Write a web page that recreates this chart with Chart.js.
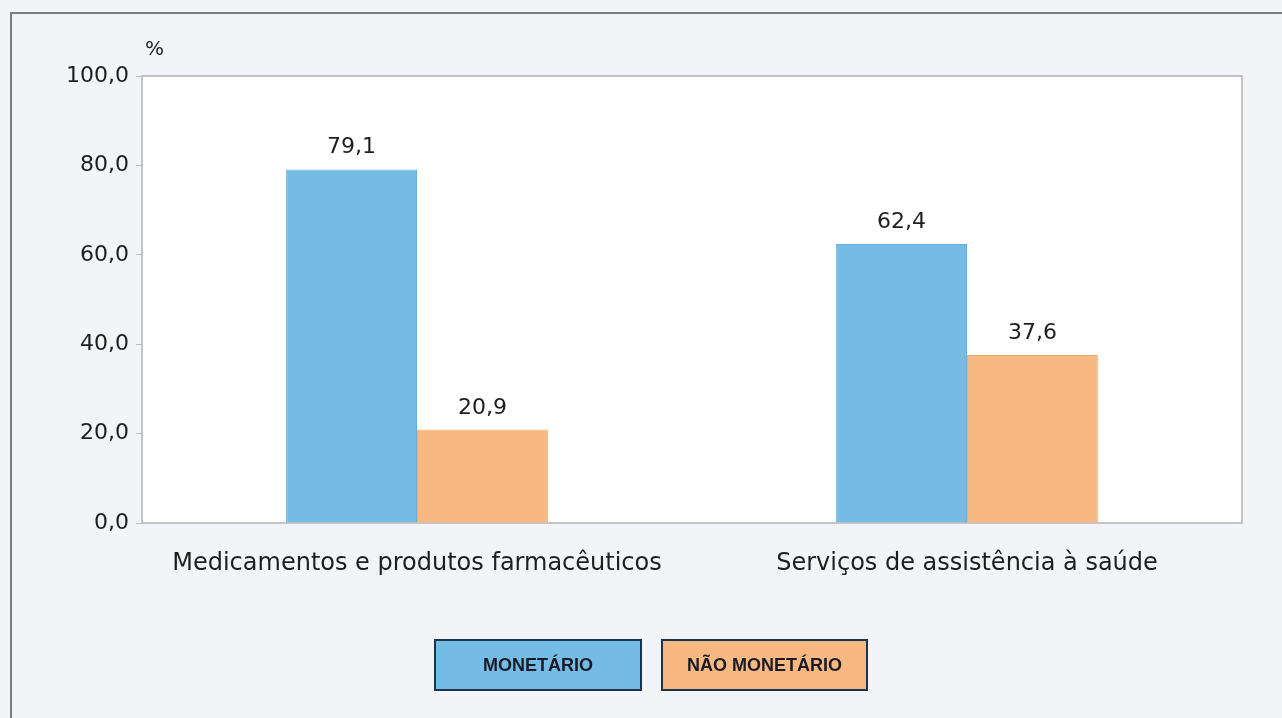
<!DOCTYPE html>
<html>
<head>
<meta charset="utf-8">
<script src="https://cdn.jsdelivr.net/npm/chart.js@4"></script>
<style>
  html, body { margin: 0; padding: 0; background: #f2f4f7; }
  #frame {
    position: absolute; left: 10px; top: 12px; width: 1272px; height: 706px;
    border-top: 2px solid #7b7b7b; border-left: 2px solid #7b7b7b;
  }
  #wrap { position: absolute; left: 0; top: 0; width: 1282px; height: 718px; }
  #legend { position: absolute; left: 0; top: 639px; width: 1282px; height: 52px; }
  .leg {
    position: absolute; top: 0; height: 52px; box-sizing: border-box;
    border: 2px solid #1c3350; font: bold 18px "Liberation Sans", Arial, sans-serif;
    color: #1a1a24; display: flex; align-items: center; justify-content: center;
  }
</style>
</head>
<body>
<div id="frame"></div>
<div id="wrap"><canvas id="grafico" width="1282" height="718"></canvas></div>
<div id="legend"></div>
<script>
// données
var categorias = ['Medicamentos e produtos farmacêuticos', 'Serviços de assistência à saúde'];
var monetario = [79.1, 62.4];
var naoMonetario = [20.9, 37.6];
var series = ['MONETÁRIO', 'NÃO MONETÁRIO'];
var ticksY = [0, 20, 40, 60, 80, 100];

var azul = '#74bbe6';
var laranja = '#f7b981';
var fonte = '"DejaVu Sans", Verdana, sans-serif';

function virgula(v) {
    return v.toFixed(1).replace('.', ',');
}

// fond blanc + bordure de la zone de tracé
var fondPlot = {
    id: 'fondPlot',
    beforeDraw: function (chart) {
        var a = chart.chartArea, ctx = chart.ctx;
        ctx.save();
        ctx.fillStyle = '#ffffff';
        ctx.fillRect(a.left, a.top, a.right - a.left, a.bottom - a.top);
        ctx.strokeStyle = '#c4c4c4';
        ctx.lineWidth = 2;
        ctx.strokeRect(a.left, a.top, a.right - a.left, a.bottom - a.top);
        ctx.restore();
    },
    afterDraw: function (chart) {
        var ctx = chart.ctx, a = chart.chartArea;
        ctx.save();
        // unité
        ctx.fillStyle = '#1e1e1e';
        ctx.font = '20px ' + fonte;
        ctx.textAlign = 'left';
        ctx.textBaseline = 'alphabetic';
        ctx.fillText('%', a.left + 3, a.top - 21);
        // valeurs au-dessus des barres
        ctx.font = '22px ' + fonte;
        ctx.textAlign = 'center';
        chart.data.datasets.forEach(function (ds, i) {
            chart.getDatasetMeta(i).data.forEach(function (bar, j) {
                ctx.fillText(virgula(ds.data[j]), bar.x, bar.y - 16);
            });
        });
        ctx.restore();
    }
};

var ctx = document.getElementById('grafico').getContext('2d');
var grafico = new Chart(ctx, {
    type: 'bar',
    data: {
        labels: categorias,
        datasets: [{
            label: series[0],
            data: monetario,
            backgroundColor: azul,
            borderColor: '#6aaedb',
            borderWidth: 1
        }, {
            label: series[1],
            data: naoMonetario,
            backgroundColor: laranja,
            borderColor: '#eeae77',
            borderWidth: 1
        }]
    },
    options: {
        responsive: false,
        animation: false,
        layout: { padding: { top: 76, right: 40, left: 0, bottom: 0 } },
        datasets: { bar: { categoryPercentage: 0.476, barPercentage: 1.0 } },
        plugins: { legend: { display: false }, tooltip: { enabled: false } },
        scales: {
            x: {
                grid: { display: false },
                border: { display: false },
                ticks: { color: '#1e1e1e', font: { family: fonte, size: 24 }, padding: 18, maxRotation: 0 },
                afterFit: function (s) { s.height = 195; }
            },
            y: {
                min: 0,
                max: 100,
                afterBuildTicks: function (s) {
                    s.ticks = ticksY.map(function (v) { return { value: v }; });
                },
                grid: { drawOnChartArea: false, drawTicks: true, tickLength: 6, color: '#bdbdbd' },
                border: { display: false },
                ticks: {
                    color: '#1e1e1e',
                    font: { family: fonte, size: 22 },
                    padding: 7,
                    callback: function (v) { return virgula(v); }
                },
                afterFit: function (s) { s.width = 142; }
            }
        }
    },
    plugins: [fondPlot]
});

// légende en boîtes
var legendeX = [434, 661];
var legendeW = [208, 207];
var cores = [azul, laranja];
var leg = document.getElementById('legend');
series.forEach(function (nome, i) {
    var d = document.createElement('div');
    d.className = 'leg';
    d.style.left = legendeX[i] + 'px';
    d.style.width = legendeW[i] + 'px';
    d.style.background = cores[i];
    d.textContent = nome;
    leg.appendChild(d);
});
</script>
</body>
</html>
